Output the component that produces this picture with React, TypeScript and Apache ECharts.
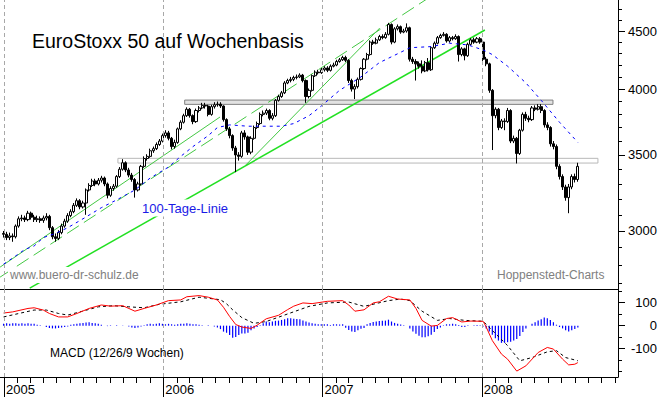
import { useEffect, useRef } from 'react';
import * as echarts from 'echarts';

// ---------- data ----------
const firstWeekDate = '2004-12-31'; // weekly candles, Fridays
const firstOpen = 2985;

const close2005 = [2980, 2960, 2970, 2965, 3030, 3075, 3080, 3070, 3110, 3085, 3070, 3075, 3065, 3080, 3090, 3020, 2965, 2955, 2990, 3030, 3060, 3095, 3120, 3160, 3190, 3150, 3175, 3260, 3290, 3320, 3300, 3325, 3340, 3300, 3225, 3270, 3285, 3350, 3400, 3445, 3395, 3360, 3330, 3260, 3300, 3420, 3475, 3490, 3530, 3545, 3575, 3600, 3640];
const high2005 = [3000, 2995, 2990, 2985, 3040, 3090, 3100, 3095, 3125, 3120, 3100, 3095, 3090, 3095, 3110, 3100, 3030, 2985, 3005, 3045, 3075, 3110, 3135, 3175, 3205, 3200, 3190, 3270, 3305, 3335, 3335, 3340, 3355, 3350, 3310, 3285, 3300, 3360, 3415, 3470, 3455, 3410, 3375, 3340, 3315, 3430, 3490, 3505, 3545, 3560, 3590, 3615, 3655];
const low2005 = [2960, 2945, 2945, 2935, 2955, 3020, 3060, 3055, 3060, 3070, 3055, 3055, 3050, 3050, 3065, 3005, 2950, 2935, 2945, 2980, 3020, 3050, 3085, 3110, 3150, 3135, 3140, 3100, 3250, 3280, 3285, 3290, 3310, 3285, 3205, 3215, 3255, 3275, 3340, 3390, 3380, 3345, 3315, 3210, 3250, 3290, 3410, 3460, 3480, 3515, 3535, 3565, 3590];

const close2006 = [3660, 3620, 3560, 3590, 3690, 3740, 3790, 3840, 3790, 3745, 3830, 3850, 3870, 3865, 3800, 3860, 3875, 3880, 3865, 3760, 3690, 3640, 3550, 3500, 3490, 3660, 3630, 3520, 3620, 3700, 3730, 3800, 3810, 3830, 3770, 3790, 3910, 3940, 3970, 4050, 4070, 4080, 4095, 4100, 4115, 4070, 3940, 3990, 4110, 4140, 4135, 4160];
const high2006 = [3680, 3675, 3630, 3610, 3700, 3755, 3805, 3855, 3850, 3800, 3845, 3865, 3890, 3890, 3875, 3875, 3895, 3900, 3895, 3870, 3770, 3705, 3650, 3565, 3520, 3675, 3680, 3640, 3635, 3715, 3745, 3815, 3830, 3845, 3840, 3810, 3920, 3955, 3985, 4065, 4085, 4100, 4110, 4120, 4130, 4125, 4080, 4005, 4120, 4155, 4160, 4175];
const low2006 = [3625, 3605, 3540, 3545, 3580, 3680, 3730, 3780, 3775, 3725, 3735, 3815, 3840, 3845, 3785, 3790, 3845, 3860, 3850, 3745, 3675, 3620, 3530, 3380, 3460, 3480, 3610, 3500, 3505, 3610, 3690, 3720, 3785, 3795, 3755, 3755, 3780, 3900, 3930, 3960, 4040, 4055, 4065, 4080, 4090, 4055, 3890, 3925, 3980, 4100, 4120, 4125];

const close2007 = [4175, 4155, 4190, 4200, 4230, 4245, 4265, 4240, 4070, 4000, 4020, 4080, 4170, 4250, 4290, 4400, 4390, 4420, 4450, 4440, 4470, 4560, 4400, 4520, 4540, 4490, 4500, 4530, 4250, 4230, 4210, 4190, 4150, 4220, 4160, 4350, 4390, 4440, 4460, 4470, 4410, 4440, 4430, 4450, 4290, 4340, 4280, 4380, 4420, 4400, 4430, 4400];
const high2007 = [4190, 4190, 4205, 4220, 4245, 4260, 4280, 4280, 4250, 4085, 4040, 4095, 4180, 4260, 4305, 4415, 4420, 4440, 4465, 4470, 4490, 4575, 4570, 4535, 4560, 4550, 4520, 4570, 4540, 4270, 4250, 4230, 4240, 4235, 4260, 4365, 4405, 4455, 4475, 4490, 4480, 4455, 4455, 4470, 4460, 4355, 4350, 4395, 4435, 4440, 4445, 4445];
const low2007 = [4145, 4140, 4145, 4180, 4190, 4220, 4235, 4225, 4050, 3980, 3920, 4005, 4070, 4160, 4240, 4280, 4375, 4380, 4410, 4425, 4430, 4460, 4380, 4390, 4505, 4475, 4480, 4485, 4230, 4210, 4070, 4170, 4130, 4140, 4145, 4150, 4340, 4380, 4430, 4450, 4395, 4395, 4415, 4420, 4230, 4275, 4240, 4270, 4370, 4385, 4390, 4385];

const close2008 = [4250, 4210, 3990, 3790, 3840, 3700, 3750, 3745, 3830, 3600, 3620, 3510, 3680, 3800, 3770, 3760, 3850, 3840, 3860, 3830, 3720, 3700, 3580, 3560, 3420, 3350, 3280, 3210, 3280, 3350, 3330, 3420];
const high2008 = [4420, 4270, 4220, 4000, 3855, 3850, 3765, 3770, 3850, 3840, 3640, 3630, 3690, 3815, 3820, 3790, 3865, 3870, 3880, 3880, 3840, 3740, 3710, 3600, 3575, 3435, 3365, 3295, 3300, 3365, 3370, 3445];
const low2008 = [4235, 4190, 3970, 3535, 3770, 3680, 3690, 3680, 3735, 3585, 3585, 3440, 3500, 3670, 3750, 3740, 3750, 3825, 3830, 3810, 3700, 3680, 3560, 3540, 3400, 3330, 3260, 3190, 3110, 3265, 3310, 3315];

// 100-Tage-Linie (week index, value)
const maWeeks = [0, 3, 7, 10, 13, 17, 21, 26, 32, 37, 43, 48, 54, 58, 62, 67, 70, 74, 80, 84, 91, 95, 100, 104, 110, 117, 123, 130, 133, 140, 146, 152, 157, 160, 165, 171, 176, 182, 188];
const maValues = [2805, 2840, 2890, 2910, 2960, 2985, 3020, 3075, 3145, 3195, 3260, 3340, 3415, 3490, 3560, 3640, 3700, 3720, 3710, 3710, 3710, 3730, 3790, 3865, 3990, 4100, 4220, 4310, 4350, 4360, 4390, 4375, 4330, 4290, 4190, 4050, 3910, 3740, 3590];

// MACD line (red)
const macdWeeks = [0, 3, 8, 10, 13, 15, 18, 21, 24, 28, 32, 35, 39, 43, 46, 50, 54, 58, 60, 64, 67, 70, 72, 74, 76, 78, 81, 83, 86, 90, 93, 95, 98, 101, 106, 111, 113, 115, 118, 121, 123, 126, 129, 133, 135, 137, 140, 142, 145, 147, 150, 153, 157, 158, 160, 163, 165, 168, 171, 175, 178, 180, 183, 185, 187, 188];
const macdValues = [55, 60, 75, 78, 68, 53, 38, 38, 53, 75, 90, 85, 87, 63, 75, 90, 109, 112, 126, 131, 124, 112, 80, 40, 5, -6, -12, 2, 30, 45, 70, 85, 99, 96, 106, 109, 90, 63, 69, 99, 104, 128, 116, 112, 75, 23, -2, 1, 31, 35, 16, 20, 19, -6, -65, -124, -146, -198, -175, -117, -95, -102, -146, -171, -168, -161];

// signal line (black dashed)
const signalWeeks = [0, 5, 10, 14, 18, 21, 25, 31, 36, 41, 46, 51, 58, 64, 71, 73, 75, 78, 82, 86, 93, 100, 106, 113, 118, 126, 130, 133, 137, 142, 146, 151, 157, 160, 165, 169, 173, 178, 181, 184, 188];
const signalValues = [38, 53, 68, 68, 53, 46, 60, 82, 87, 82, 78, 93, 104, 124, 113, 95, 69, 35, 10, 18, 51, 84, 99, 103, 84, 109, 116, 109, 63, 23, 31, 23, 19, -21, -87, -153, -139, -114, -109, -139, -153];

// histogram (one bar per week)
const macdHistogram = [
  8, 10, 8, 10, 10, 8, 10, 8, 10, 8,
  8, 4, 2, 0, -6, -10, -12, -12, -10, -8,
  -6, -4, 4, 6, 8, 10, 12, 14, 15, 12,
  10, 8, 4, 0, -2, 2, 0, 2, 0, -2,
  0, -4, -8, -10, -8, -4, 2, 6, 8, 6,
  8, 10, 8, 6, 8, 6, 4, 6, 8, 8,
  10, 8, 6, 6, 4, 2, 0, 2, 0, -4,
  -8, -15, -26, -31, -41, -53, -49, -41, -34, -34,
  -31, -20, -12, -6, 2, 10, 18, 15, 18, 21,
  22, 25, 28, 32, 32, 30, 29, 28, 22, 18,
  14, 10, 8, 6, 6, 6, 6, 3, 6, 6,
  5, 6, -9, -19, -26, -28, -20, -14, -10, 6,
  12, 16, 18, 20, 21, 22, 26, 18, 12, 8,
  5, 2, 0, -12, -25, -35, -44, -50, -50, -46,
  -40, -28, -15, -8, 2, 6, 6, 8, 6, 3,
  -6, -6, 2, 0, 2, 3, 2, -4, -12, -25,
  -40, -55, -65, -75, -75, -72, -70, -65, -58, -45,
  -28, -12, 0, 8, 15, 22, 28, 35, 32, 25,
  15, 4, -6, -12, -20, -25, -20, -15, -8,
];

// trend lines: [date, price] -> [date, price]
const trendMain = [['2005-03-01', 2672], ['2008-01-08', 4509]];
const trendUpperA = [['2004-12-23', 2788], ['2006-05-11', 3780]];
const trendDashed = [['2004-12-23', 2732], ['2007-09-04', 4821]];
const trendSteep = [['2006-07-09', 3429], ['2007-05-12', 4527]];

// horizontal zones [from, to, upper price, lower price]
const zoneUpper = ['2006-02-19', '2008-06-12', 3912, 3878];
const zoneLower = ['2005-09-19', '2008-09-23', 3476, 3443];

const priceLabels = [3000, 3500, 4000, 4500];
const priceMinorTicks = [2700, 2800, 2900, 3000, 3100, 3200, 3300, 3400, 3500, 3600, 3700, 3800, 3900, 4000, 4100, 4200, 4300, 4400, 4500, 4600, 4700];
const priceRange = [2667, 4792];
const macdLabels = [-100, 0, 100];
const macdMinorTicks = [-200, -150, -100, -50, 0, 50, 100, 150];
const macdRange = [-223.7, 159.7];
const yearLabels = [2005, 2006, 2007, 2008];

// ---------- helpers ----------
const DAY = 86400000;
const toTime = (s: string) => new Date(s + 'T00:00:00Z').getTime();
const weekTime = (k: number) => toTime(firstWeekDate) + k * 7 * DAY;
const ln = Math.log;
const FONT = '"Liberation Sans", Arial, Helvetica, sans-serif';

export default function App() {
  const ref = useRef<HTMLDivElement>(null);

  useEffect(() => {
    const chart = echarts.init(ref.current!, null, { renderer: 'svg' });

    const closes = [...close2005, ...close2006, ...close2007, ...close2008];
    const highs = [...high2005, ...high2006, ...high2007, ...high2008];
    const lows = [...low2005, ...low2006, ...low2007, ...low2008];
    const candles = closes.map((c, k) => {
      const o = k === 0 ? firstOpen : closes[k - 1];
      return [weekTime(k), ln(o), ln(c), ln(lows[k]), ln(highs[k])];
    });

    const base = toTime('2005-01-01');
    const xMin = base - 9.2 * DAY;
    const xMax = base + 1407 * DAY;
    const monthTicks: number[] = [];
    for (let y = 2004; y <= 2008; y++) {
      for (let m = 0; m < 12; m++) {
        const t = Date.UTC(y, m, 1);
        if (t >= xMin && t <= xMax) monthTicks.push(t);
      }
    }
    const yearTicks = yearLabels.map((y) => Date.UTC(y, 0, 1));

    const trendSeries = (pts: any[], color: string, width: number, type: any) => ({
      type: 'line',
      xAxisIndex: 0,
      yAxisIndex: 0,
      data: pts.map((p) => [toTime(p[0]), ln(p[1])]),
      symbol: 'none',
      silent: true,
      lineStyle: { color, width, type },
      z: 1,
    });

    const yearLine = {
      symbol: ['none', 'none'],
      silent: true,
      label: { show: false },
      lineStyle: { color: '#a8a8a8', width: 1, type: [4, 3] },
      data: yearTicks.map((t) => ({ xAxis: t })),
    };

    const zone = (z: any[], fill: string, border: string) => [
      { xAxis: toTime(z[0]), yAxis: ln(z[2]), itemStyle: { color: fill, borderColor: border, borderWidth: 1 } },
      { xAxis: toTime(z[1]), yAxis: ln(z[3]) },
    ];

    const xBase = { type: 'value', min: xMin, max: xMax, splitLine: { show: false } };

    const option: any = {
      animation: false,
      backgroundColor: '#ffffff',
      grid: [
        { left: 0, right: 42, top: 0, height: 289 },
        { left: 0, right: 42, top: 289, height: 88 },
      ],
      xAxis: [
        {
          ...xBase,
          gridIndex: 0,
          position: 'bottom',
          axisLine: { show: true, onZero: false, lineStyle: { color: '#000', width: 1.2 } },
          axisTick: { show: false },
          axisLabel: { show: false },
        },
        {
          ...xBase,
          gridIndex: 1,
          position: 'bottom',
          axisLine: { show: true, onZero: false, lineStyle: { color: '#000', width: 1 } },
          axisTick: { show: true, length: 6, customValues: monthTicks, lineStyle: { color: '#000' } },
          axisLabel: { show: false },
        },
        {
          ...xBase,
          gridIndex: 1,
          position: 'bottom',
          axisLine: { show: false, onZero: false },
          axisTick: { show: true, length: 20, customValues: yearTicks, lineStyle: { color: '#000' } },
          axisLabel: {
            show: true,
            customValues: yearTicks,
            formatter: (v: number) => String(new Date(v).getUTCFullYear()),
            align: 'left',
            padding: [0, 0, 0, 2],
            margin: 6,
            fontSize: 13,
            fontFamily: FONT,
            color: '#000',
          },
        },
      ],
      yAxis: [
        {
          type: 'value',
          gridIndex: 0,
          position: 'right',
          min: ln(priceRange[0]),
          max: ln(priceRange[1]),
          axisLine: { show: true, lineStyle: { color: '#000', width: 1 } },
          axisTick: { show: true, length: 4, customValues: priceMinorTicks.map(ln), lineStyle: { color: '#000' } },
          axisLabel: { show: false },
          splitLine: { show: false },
        },
        {
          type: 'value',
          gridIndex: 0,
          position: 'right',
          min: ln(priceRange[0]),
          max: ln(priceRange[1]),
          axisLine: { show: false },
          axisTick: { show: true, length: 7, customValues: priceLabels.map(ln), lineStyle: { color: '#000' } },
          axisLabel: {
            show: true,
            customValues: priceLabels.map(ln),
            formatter: (v: number) => String(Math.round(Math.exp(v))),
            align: 'right',
            margin: 39,
            fontSize: 13,
            fontFamily: FONT,
            color: '#000',
          },
          splitLine: { show: false },
        },
        {
          type: 'value',
          gridIndex: 1,
          position: 'right',
          min: macdRange[0],
          max: macdRange[1],
          axisLine: { show: true, lineStyle: { color: '#000', width: 1 } },
          axisTick: { show: true, length: 4, customValues: macdMinorTicks, lineStyle: { color: '#000' } },
          axisLabel: { show: false },
          splitLine: { show: false },
        },
        {
          type: 'value',
          gridIndex: 1,
          position: 'right',
          min: macdRange[0],
          max: macdRange[1],
          axisLine: { show: false },
          axisTick: { show: true, length: 7, customValues: macdLabels, lineStyle: { color: '#000' } },
          axisLabel: {
            show: true,
            customValues: macdLabels,
            formatter: (v: number) => String(v),
            align: 'right',
            margin: 39,
            fontSize: 13,
            fontFamily: FONT,
            color: '#000',
          },
          splitLine: { show: false },
        },
      ],
      series: [
        trendSeries(trendMain, '#22e022', 1.5, 'solid'),
        trendSeries(trendUpperA, '#44c844', 1, 'solid'),
        trendSeries(trendDashed, '#44c844', 1, [14, 6]),
        trendSeries(trendSteep, '#44c844', 1, 'solid'),
        {
          type: 'candlestick',
          xAxisIndex: 0,
          yAxisIndex: 0,
          silent: true,
          barWidth: 2.6,
          dimensions: ['date', 'open', 'close', 'lowest', 'highest'],
          encode: { x: 'date', y: ['open', 'close', 'lowest', 'highest'] },
          data: candles,
          itemStyle: { color: '#ffffff', color0: '#000000', borderColor: '#000000', borderColor0: '#000000', borderWidth: 1 },
          z: 3,
        },
        {
          type: 'line',
          xAxisIndex: 0,
          yAxisIndex: 0,
          silent: true,
          symbol: 'none',
          data: maWeeks.map((k, i) => [weekTime(k), ln(maValues[i])]),
          lineStyle: { color: '#0000ff', width: 1, type: [3, 4] },
          z: 4,
          markLine: yearLine,
          markArea: {
            silent: true,
            data: [zone(zoneUpper, '#e2e2e2', '#808080'), zone(zoneLower, 'rgba(255,255,255,0)', '#b8b8b8')],
          },
        },
        {
          type: 'bar',
          xAxisIndex: 1,
          yAxisIndex: 2,
          silent: true,
          barWidth: 1.2,
          data: macdHistogram.map((v, k) => [weekTime(k), v]),
          itemStyle: { color: '#0000ff' },
        },
        {
          type: 'line',
          xAxisIndex: 1,
          yAxisIndex: 2,
          silent: true,
          symbol: 'none',
          data: signalWeeks.map((k, i) => [weekTime(k), signalValues[i]]),
          lineStyle: { color: '#000000', width: 1, type: [3, 3] },
          markLine: yearLine,
        },
        {
          type: 'line',
          xAxisIndex: 1,
          yAxisIndex: 2,
          silent: true,
          symbol: 'none',
          data: macdWeeks.map((k, i) => [weekTime(k), macdValues[i]]),
          lineStyle: { color: '#ff0000', width: 1 },
          z: 4,
        },
      ],
      graphic: [
        {
          type: 'text', x: 32, y: 41, z: 100, silent: true,
          style: { text: 'EuroStoxx 50 auf Wochenbasis', fill: '#000', fontSize: 19.5, fontFamily: FONT, align: 'left', verticalAlign: 'middle' },
        },
        {
          type: 'text', x: 140, y: 208, z: 100, silent: true,
          style: { text: '100-Tage-Linie', fill: '#1a1ae6', fontSize: 13, fontFamily: FONT, align: 'left', verticalAlign: 'middle', backgroundColor: '#ffffff', padding: [2, 2] },
        },
        {
          type: 'text', x: 8, y: 275, z: 100, silent: true,
          style: { text: 'www.buero-dr-schulz.de', fill: '#808080', fontSize: 12, fontFamily: FONT, align: 'left', verticalAlign: 'middle', backgroundColor: '#ffffff', padding: [2, 2] },
        },
        {
          type: 'text', x: 497, y: 275, z: 100, silent: true,
          style: { text: 'Hoppenstedt-Charts', fill: '#808080', fontSize: 12, fontFamily: FONT, align: 'left', verticalAlign: 'middle' },
        },
        {
          type: 'text', x: 50, y: 353, z: 100, silent: true,
          style: { text: 'MACD (12/26/9 Wochen)', fill: '#000', fontSize: 12, fontFamily: FONT, align: 'left', verticalAlign: 'middle' },
        },
      ],
    };

    chart.setOption(option);
    return () => chart.dispose();
  }, []);

  return (
    <div
      ref={ref}
      style={{ position: 'fixed', left: 0, top: 0, width: 660, height: 397, background: '#fff' }}
    />
  );
}
